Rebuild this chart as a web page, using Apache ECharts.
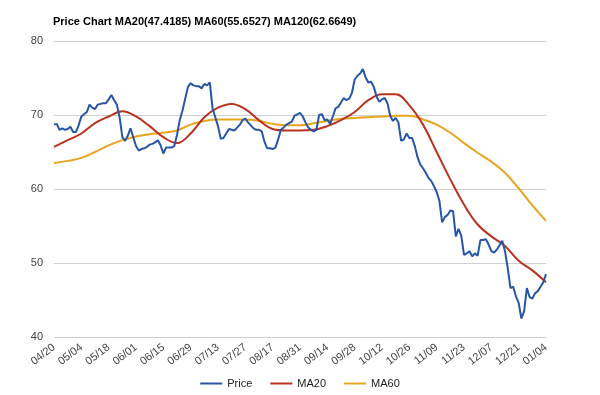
<!DOCTYPE html>
<html>
<head>
<meta charset="utf-8">
<script src="https://cdn.jsdelivr.net/npm/echarts@6/dist/echarts.min.js"></script>
<style>html,body{margin:0;padding:0;background:#fff}#c{width:600px;height:395px}</style>
</head>
<body>
<div id="c"></div>
<script>
const titleText = 'Price Chart MA20(47.4185) MA60(55.6527) MA120(62.6649)';
const tickLabels = ['04/20','05/04','05/18','06/01','06/15','06/29','07/13','07/27','08/17','08/31','09/14','09/28','10/12','10/26','11/09','11/23','12/07','12/21','01/04'];
// daily closing price, one value per trading day (labels every 10 trading days)
const price = [
68.7,68.8,68.0,68.2,68.0,68.1,68.4,67.7,67.7,68.6,
69.8,70.1,70.4,71.4,71.0,70.8,71.4,71.5,71.6,71.6,
72.1,72.7,72.0,71.4,69.7,67.0,66.5,67.2,68.2,67.0,
65.8,65.2,65.4,65.5,65.7,66.0,66.1,66.3,66.6,65.9,
64.8,65.6,65.6,65.6,65.8,67.3,69.3,70.6,72.2,73.8,
74.3,74.0,73.9,73.9,73.6,74.2,74.0,74.4,70.9,69.7,
68.5,66.8,66.9,67.5,68.1,68.0,67.9,68.3,68.7,69.3,
69.5,69.0,68.6,68.2,68.0,68.0,67.8,66.4,65.5,65.5,
65.4,65.6,66.7,68.0,68.3,68.7,68.9,69.1,69.9,70.1,
70.3,69.8,69.0,68.3,68.0,67.8,68.0,70.0,70.1,69.3,
69.4,68.8,69.8,70.9,71.1,71.7,72.3,72.0,72.2,73.0,
74.8,75.3,75.6,76.2,75.1,74.4,74.5,73.8,72.5,71.8,
72.1,72.3,71.6,69.9,69.2,69.6,69.0,66.5,66.7,67.5,
66.9,66.9,65.8,64.3,63.3,62.8,62.2,61.5,61.1,60.4,
59.6,58.4,55.5,56.2,56.5,57.1,57.0,53.6,54.6,53.7,
51.1,51.3,51.6,50.9,51.3,51.0,53.1,53.1,53.2,52.5,
51.6,51.4,51.8,52.4,53.0,51.6,49.3,46.6,46.8,45.5,
44.6,42.5,43.5,46.6,45.4,45.2,45.9,46.2,46.8,47.4,48.5
];
// moving averages, one value every 5 trading days
const maStep = 5;
const ma20 = [65.7,66.6,67.5,68.9,69.8,70.5,69.8,68.5,67.0,66.2,67.5,69.7,71.0,71.5,70.8,69.3,68.1,67.9,67.9,68.0,68.5,69.3,70.4,72.0,72.8,72.8,71.3,68.7,65.0,61.3,57.9,55.2,53.6,52.3,50.3,49.0,47.4];
const ma60 = [63.5,63.8,64.2,65.0,65.9,66.6,67.1,67.4,67.6,67.9,68.7,69.2,69.4,69.4,69.4,69.2,68.8,68.6,68.6,68.9,69.2,69.5,69.6,69.7,69.8,69.9,69.9,69.4,68.7,67.6,66.2,64.9,63.7,62.2,60.1,57.8,55.7];
const seriesNames = ['Price','MA20','MA60'];
const labelStep = 10;

const font = '"Liberation Sans", Arial, sans-serif';
const chart = echarts.init(document.getElementById('c'), null, {renderer:'canvas'});
chart.setOption({
  animation: false,
  backgroundColor: '#fff',
  title: {
    text: titleText, left: 48, top: 11,
    textStyle: {fontFamily: font, fontSize: 11, fontWeight: 'bold', color: '#000'}
  },
  legend: {
    data: seriesNames, bottom: 1, left: 'center',
    icon: 'rect', itemWidth: 22, itemHeight: 2, itemGap: 18,
    textStyle: {fontFamily: font, fontSize: 11, color: '#222'}
  },
  grid: {left: 54, right: 54, top: 41, bottom: 58},
  xAxis: {
    type: 'value', min: 0, max: (tickLabels.length - 1) * labelStep, interval: labelStep,
    axisLine: {show: false}, axisTick: {show: false}, splitLine: {show: false},
    axisLabel: {
      rotate: 38, margin: 9, fontFamily: font, fontSize: 11, color: '#444',
      formatter: v => tickLabels[Math.round(v / labelStep)] || ''
    }
  },
  yAxis: {
    type: 'value', min: 40, max: 80, interval: 10,
    axisLine: {show: false}, axisTick: {show: false},
    splitLine: {lineStyle: {color: '#cfcfcf', width: 1}},
    axisLabel: {margin: 11, fontFamily: font, fontSize: 11, color: '#444'}
  },
  series: [
    {name: 'Price', type: 'line', showSymbol: false, data: price.map((v, i) => [i, v]),
     lineStyle: {color: '#2856a6', width: 2}, itemStyle: {color: '#2856a6'}, z: 3},
    {name: 'MA20', type: 'line', showSymbol: false, smooth: 0.4, data: ma20.map((v, j) => [j * maStep, v]),
     lineStyle: {color: '#b8321e', width: 2}, itemStyle: {color: '#b8321e'}, z: 2},
    {name: 'MA60', type: 'line', showSymbol: false, smooth: 0.4, data: ma60.map((v, j) => [j * maStep, v]),
     lineStyle: {color: '#e8a51f', width: 2}, itemStyle: {color: '#e8a51f'}, z: 1}
  ]
});
</script>
</body>
</html>
